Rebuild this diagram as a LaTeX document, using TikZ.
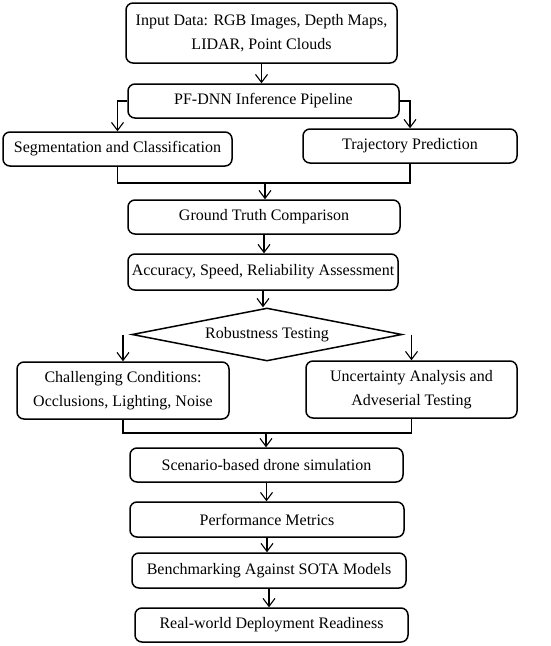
\documentclass[tikz,border=0pt]{standalone}
\usepackage{fontspec}
\setmainfont{Liberation Serif}
\usetikzlibrary{arrows.meta,shapes.geometric}
\tikzset{
  box/.style={draw, line width=1.5pt, rounded corners=7pt, inner sep=0pt, align=center,
    font=\fontsize{16}{24}\selectfont},
  arr/.style={line width=1.1pt, -{Straight Barb[length=8pt,width=12pt,line width=1.1pt]}},
  ln/.style={line width=1.3pt},
}
\begin{document}
\begin{tikzpicture}[x=1pt,y=-1pt]
\useasboundingbox (0,0) rectangle (550,646);
\node[box, minimum width=271, minimum height=60] (in) at (261.5,33) {Input Data: RGB Images, Depth Maps,\\LIDAR, Point Clouds};
\node[box, minimum width=271, minimum height=34] (pf) at (263.5,101) {PF-DNN Inference Pipeline};
\node[box, minimum width=229, minimum height=34] (seg) at (117.5,149) {Segmentation and Classification};
\node[box, minimum width=214, minimum height=34] (traj) at (410,146) {Trajectory Prediction};
\node[box, minimum width=272, minimum height=34] (gt) at (264,217) {Ground Truth Comparison};
\node[box, minimum width=270, minimum height=36] (acc) at (263,272) {Accuracy, Speed, Reliability Assessment};
\node[draw, line width=1.5pt, diamond, aspect=5.1, inner sep=0pt, minimum width=270, minimum height=53,
  font=\fontsize{16}{24}\selectfont] (dia) at (267,334.5) {Robustness Testing};
\node[box, minimum width=212, minimum height=57] (ch) at (123,390.5) {Challenging Conditions:\\Occlusions, Lighting, Noise};
\node[box, minimum width=211, minimum height=57] (unc) at (411.5,389.5) {Uncertainty Analysis and\\Adveserial Testing};
\node[box, minimum width=273, minimum height=34] (sc) at (266.5,465) {Scenario-based drone simulation};
\node[box, minimum width=274, minimum height=35] (perf) at (267,519.5) {Performance Metrics};
\node[box, minimum width=274, minimum height=35] (bench) at (269,570.5) {Benchmarking Against SOTA Models};
\node[box, minimum width=273, minimum height=34] (real) at (271.5,625) {Real-world Deployment Readiness};

\draw[arr] (in.south) -- (in.south |- pf.north);
\draw[arr] (pf.west) -| (seg.north);
\draw[arr] (pf.east) -| (traj.north);
\coordinate (j1) at (265,183);
\draw[ln] (seg.south) |- (j1);
\draw[ln] (traj.south) |- (j1);
\draw[arr] (j1) -- (j1 |- gt.north);
\draw[arr] (gt.south) -- (gt.south |- acc.north);
\draw[arr] (acc.south) -- (acc.south |- dia.north);
\draw[arr] (ch.north |- dia.west) -- (ch.north);
\draw[arr] (unc.north |- dia.east) -- (unc.north);
\coordinate (j2) at (266,433);
\draw[ln] (ch.south) |- (j2);
\draw[ln] (unc.south) |- (j2);
\draw[arr] (j2) -- (j2 |- sc.north);
\draw[arr] (sc.south) -- (sc.south |- perf.north);
\draw[arr] (perf.south) -- (perf.south |- bench.north);
\draw[arr] (bench.south) -- (bench.south |- real.north);
\end{tikzpicture}
\end{document}
